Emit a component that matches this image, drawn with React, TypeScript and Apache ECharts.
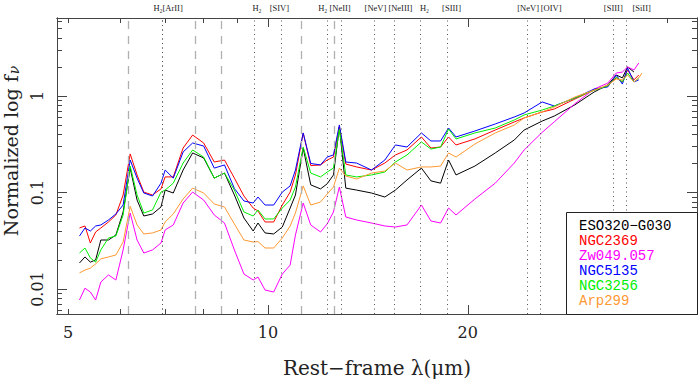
import React, { useEffect, useRef } from "react";
import * as echarts from "echarts";

// Rest-frame wavelength grid (micron)
const wavelength = [5.2, 5.3, 5.4, 5.5, 5.6, 5.75, 5.9, 6.05, 6.2, 6.35, 6.5, 6.7, 6.9, 7.0, 7.2, 7.45, 7.7, 8.0, 8.3, 8.6, 8.9, 9.2, 9.5, 9.66, 9.9, 10.2, 10.51, 10.8, 11.0, 11.3, 11.6, 12.0, 12.28, 12.55, 12.81, 13.1, 13.6, 14.32, 15.0, 15.56, 16.2, 17.03, 17.6, 18.2, 18.71, 19.2, 20.5, 22, 23.5, 24.32, 25.89, 27, 29, 31, 32.5, 33.48, 34.2, 34.82, 35.6, 36.2, 36.6];

// Normalized f_nu per galaxy
const eso320 = [0.0186, 0.0215, 0.019, 0.02, 0.0322, 0.0322, 0.0363, 0.0628, 0.179, 0.0836, 0.0571, 0.0599, 0.0708, 0.106, 0.0988, 0.171, 0.257, 0.228, 0.141, 0.159, 0.0942, 0.0544, 0.0399, 0.0483, 0.0381, 0.0372, 0.0439, 0.0691, 0.0942, 0.289, 0.12, 0.109, 0.123, 0.152, 0.477, 0.111, 0.106, 0.0988, 0.0898, 0.106, 0.135, 0.179, 0.132, 0.125, 0.217, 0.152, 0.188, 0.257, 0.35, 0.444, 0.55, 0.62, 0.81, 1.1, 1.3, 1.65, 1.54, 2.0, 1.77, null, null];
const ngc2369 = [0.0429, 0.045, 0.03, 0.039, 0.0429, 0.0495, 0.0585, 0.0942, 0.251, 0.152, 0.101, 0.0942, 0.109, 0.145, 0.145, 0.289, 0.394, 0.326, 0.207, 0.217, 0.141, 0.092, 0.0691, 0.0643, 0.0495, 0.0495, 0.0742, 0.101, 0.152, 0.414, 0.19, 0.193, 0.217, 0.233, 0.477, 0.197, 0.184, 0.171, 0.202, 0.245, 0.276, 0.376, 0.289, 0.296, 0.376, 0.311, 0.359, 0.444, 0.538, 0.592, 0.683, 0.733, 0.93, 1.154, 1.27, 1.54, 1.4, 1.86, 1.47, 1.65, null];
const zw049 = [0.00769, 0.0102, 0.00931, 0.00769, 0.0118, 0.014, 0.0124, 0.0254, 0.0613, 0.0322, 0.0236, 0.0254, 0.03, 0.0409, 0.0461, 0.0778, 0.101, 0.0836, 0.0585, 0.0483, 0.0254, 0.0143, 0.0124, 0.0133, 0.00976, 0.00931, 0.0143, 0.0177, 0.0363, 0.0778, 0.0461, 0.039, 0.0472, 0.0628, 0.114, 0.0557, 0.0519, 0.0483, 0.045, 0.0439, 0.0461, 0.0742, 0.0507, 0.0483, 0.0691, 0.0585, 0.0856, 0.125, 0.202, 0.276, 0.42, 0.54, 0.83, 1.18, 1.36, 1.73, 1.77, 2.0, 1.86, 2.2, null];
const ngc5135 = [0.0354, 0.0429, 0.0399, 0.045, 0.0461, 0.0519, 0.0599, 0.0742, 0.217, 0.141, 0.0988, 0.092, 0.125, 0.171, 0.141, 0.263, 0.326, 0.303, 0.179, 0.193, 0.11, 0.0817, 0.0778, 0.0898, 0.0742, 0.0742, 0.101, 0.117, 0.171, 0.414, 0.2, 0.193, 0.233, 0.245, 0.501, 0.207, 0.202, 0.171, 0.217, 0.311, 0.296, 0.414, 0.342, 0.342, 0.466, 0.376, 0.434, 0.513, 0.606, 0.667, 0.867, 0.788, 0.953, 1.18, 1.24, 1.65, 1.33, 1.95, 1.4, 1.47, null];
const ngc3256 = [0.0236, 0.0266, 0.021, 0.019, 0.0254, 0.0338, 0.0354, 0.0585, 0.188, 0.0942, 0.0613, 0.0659, 0.101, 0.106, 0.125, 0.202, 0.276, 0.233, 0.141, 0.159, 0.106, 0.0628, 0.0571, 0.0659, 0.0532, 0.0532, 0.0691, 0.0836, 0.114, 0.296, 0.159, 0.145, 0.163, 0.179, 0.45, 0.152, 0.145, 0.152, 0.163, 0.207, 0.245, 0.334, 0.282, 0.296, 0.455, 0.359, 0.414, 0.466, 0.564, 0.636, 0.716, 0.788, 0.953, 1.15, 1.27, 1.57, 1.4, 1.73, 1.4, 1.54, null];
const arp299 = [0.0147, 0.0157, 0.0165, 0.0182, 0.0205, 0.0215, 0.0225, 0.0307, 0.072, 0.0461, 0.0372, 0.0381, 0.0409, 0.0495, 0.0599, 0.0856, 0.111, 0.0988, 0.076, 0.0708, 0.0472, 0.0322, 0.0307, 0.031, 0.0266, 0.0266, 0.0338, 0.045, 0.0613, 0.117, 0.0742, 0.0797, 0.0965, 0.114, 0.179, 0.148, 0.138, 0.159, 0.167, 0.202, 0.171, 0.184, 0.184, 0.188, 0.257, 0.233, 0.318, 0.414, 0.501, 0.592, 0.683, 0.769, 0.976, 1.15, 1.3, 1.5, 1.47, 1.65, 1.4, 1.54, 1.73];

const galaxyNames = ["ESO320\u2212G030", "NGC2369", "Zw049.057", "NGC5135", "NGC3256", "Arp299"];
const galaxyValues = [eso320, ngc2369, zw049, ngc5135, ngc3256, arp299];
const galaxyColors = ["#000000", "#ff0000", "#ff00ff", "#0000ff", "#00ee00", "#ff9933"];

// Feature lines
const emissionLines = [6.91, 6.985, 9.66, 10.51, 12.28, 12.81, 14.32, 15.56, 17.03, 18.71, 24.32, 25.89, 33.48, 34.82];
const pahBands = [6.2, 7.7, 8.6, 11.3, 12.7];
const lineLabels = ["H\u2082[ArII]", "H\u2082", "[SIV]", "H\u2082 [NeII]", "[NeV]", "[NeIII]", "H\u2082", "[SIII]", "[NeV]", "[OIV]", "[SIII]", "[SiII]"];
const lineLabelAt = [6.95, 9.66, 10.51, 12.55, 14.32, 15.56, 17.03, 18.71, 24.32, 25.89, 33.48, 34.82];
const lineLabelShift = [5, -1, -3, 1, 4, 5, 3, 3, 4, 9, -3, 14];

// Axes
const xTickLabels = [5, 10, 20];
const xMajorTicks = [10, 20];
const xMinorTicks = [5, 6, 7, 8, 9, 30, 40];
const yTickLabels = [0.01, 0.1, 1];
const yMajorTicks = [0.01, 0.1, 1];
const yMinorTicks = [0.006, 0.007, 0.008, 0.009, 0.02, 0.03, 0.04, 0.05, 0.06, 0.07, 0.08, 0.09, 0.2, 0.3, 0.4, 0.5, 0.6, 0.7, 0.8, 0.9, 2, 3, 4, 5, 6];
const xRange = [4.81, 44.3];
const yRange = [0.00551, 6.43];

const FRAME = "#444";
const SERIF = "DejaVu Serif";
const lg = (v: number) => Math.log10(v);
const fmt = (v: number) => String(Number(Math.pow(10, v).toPrecision(3)));

function makeX(position: string, ticks: number[], len: number, labels: boolean) {
  return {
    type: "value",
    position,
    min: lg(xRange[0]),
    max: lg(xRange[1]),
    axisLine: { show: true, onZero: false, lineStyle: { color: FRAME, width: 1 } },
    axisTick: { show: true, inside: true, length: len, customValues: ticks.map(lg), lineStyle: { color: FRAME, width: 1 } },
    axisLabel: labels
      ? { show: true, customValues: xTickLabels.map(lg), formatter: fmt, fontFamily: SERIF, fontSize: 16, color: "#222", margin: 10 }
      : { show: false },
    splitLine: { show: false },
    name: labels ? "Rest\u2212frame \u03bb(\u03bcm)" : "",
    nameLocation: "middle",
    nameGap: 44,
    nameTextStyle: { fontFamily: SERIF, fontSize: 20, color: "#222" },
  };
}

function makeY(position: string, ticks: number[], len: number, labels: boolean) {
  return {
    type: "value",
    position,
    min: lg(yRange[0]),
    max: lg(yRange[1]),
    axisLine: { show: true, onZero: false, lineStyle: { color: FRAME, width: 1 } },
    axisTick: { show: true, inside: true, length: len, customValues: ticks.map(lg), lineStyle: { color: FRAME, width: 1 } },
    axisLabel: labels
      ? { show: true, rotate: 90, customValues: yTickLabels.map(lg), formatter: fmt, fontFamily: SERIF, fontSize: 16, color: "#222", margin: 12 }
      : { show: false },
    splitLine: { show: false },
    name: labels ? "{a|Normalized log f}{b|\u03bd}" : "",
    nameLocation: "middle",
    nameGap: 31,
    nameTextStyle: {
      color: "#222",
      padding: [0, 0, 0, 30],
      rich: {
        a: { fontFamily: SERIF, fontSize: 19, color: "#222" },
        b: { fontFamily: SERIF, fontSize: 14, fontStyle: "italic", color: "#222", padding: [7, 0, 0, 1] },
      },
    },
  };
}

export default function App() {
  const ref = useRef<HTMLDivElement>(null);
  useEffect(() => {
    if (!ref.current) return;
    const chart = echarts.init(ref.current, undefined, { renderer: "svg" });
    const spectra = galaxyNames.map((name, k) => ({
      type: "line",
      name,
      xAxisIndex: 0,
      yAxisIndex: 0,
      showSymbol: false,
      symbol: "none",
      silent: true,
      z: 3,
      lineStyle: { color: galaxyColors[k], width: 1 },
      itemStyle: { color: galaxyColors[k] },
      data: wavelength
        .map((l, i) => (galaxyValues[k][i] == null ? null : [lg(l), lg(galaxyValues[k][i] as number)]))
        .filter((d) => d !== null),
    }));
    const option: any = {
      animation: false,
      backgroundColor: "#ffffff",
      grid: { left: 57, right: 3, top: 18, bottom: 68, containLabel: false, outerBoundsMode: "none" },
      xAxis: [
        makeX("bottom", xMajorTicks, 9, true),
        makeX("bottom", xMinorTicks, 5, false),
        makeX("top", xMajorTicks, 9, false),
        makeX("top", xMinorTicks, 5, false),
      ],
      yAxis: [
        makeY("left", yMajorTicks, 10, true),
        makeY("left", yMinorTicks, 5, false),
        makeY("right", yMajorTicks, 10, false),
        makeY("right", yMinorTicks, 5, false),
      ],
      legend: {
        show: true,
        orient: "vertical",
        left: 574,
        top: 219,
        padding: 0,
        itemGap: 1,
        itemWidth: 0,
        itemHeight: 0,
        selectedMode: false,
        z: 10,
        textStyle: { fontFamily: "Liberation Mono", fontSize: 14, lineHeight: 13.6 },
        data: galaxyNames.map((n, k) => ({ name: n, icon: "rect", itemStyle: { opacity: 0 }, lineStyle: { opacity: 0 }, textStyle: { color: galaxyColors[k] } })),
      },
      series: [
        {
          type: "line",
          name: "lines",
          data: [],
          xAxisIndex: 0,
          yAxisIndex: 0,
          silent: true,
          z: 1,
          markLine: {
            silent: true,
            symbol: ["none", "none"],
            label: { show: false },
            lineStyle: { color: "#555", type: [1, 3.5], width: 1 },
            data: emissionLines.map((l) => ({ xAxis: lg(l) })),
          },
        },
        {
          type: "line",
          name: "pah",
          data: [],
          xAxisIndex: 0,
          yAxisIndex: 0,
          silent: true,
          z: 1,
          markLine: {
            silent: true,
            symbol: ["none", "none"],
            label: { show: false },
            lineStyle: { color: "#b0b0b0", type: [8, 7], width: 1.3 },
            data: pahBands.map((l) => ({ xAxis: lg(l) })),
          },
        },
        ...spectra,
      ],
    };
    chart.setOption(option);
    const labelGraphics = lineLabels.map((t, i) => {
      const px = chart.convertToPixel({ xAxisIndex: 0 }, lg(lineLabelAt[i])) as number;
      return {
        type: "text",
        x: px + lineLabelShift[i],
        y: 8,
        z: 10,
        style: { text: t, fontFamily: "Liberation Serif", fontSize: 8.5, fill: "#222", align: "center", verticalAlign: "middle" },
      };
    });
    chart.setOption({
      graphic: [
        {
          type: "rect",
          z: 5,
          shape: { x: 566.5, y: 212.5, width: 131, height: 102 },
          style: { fill: "#ffffff", stroke: "#222", lineWidth: 1 },
        },
        ...labelGraphics,
      ],
    });
    return () => chart.dispose();
  }, []);
  return (
    <div
      ref={ref}
      style={{ position: "fixed", left: 0, top: 0, width: 700, height: 382, background: "#fff" }}
    />
  );
}
